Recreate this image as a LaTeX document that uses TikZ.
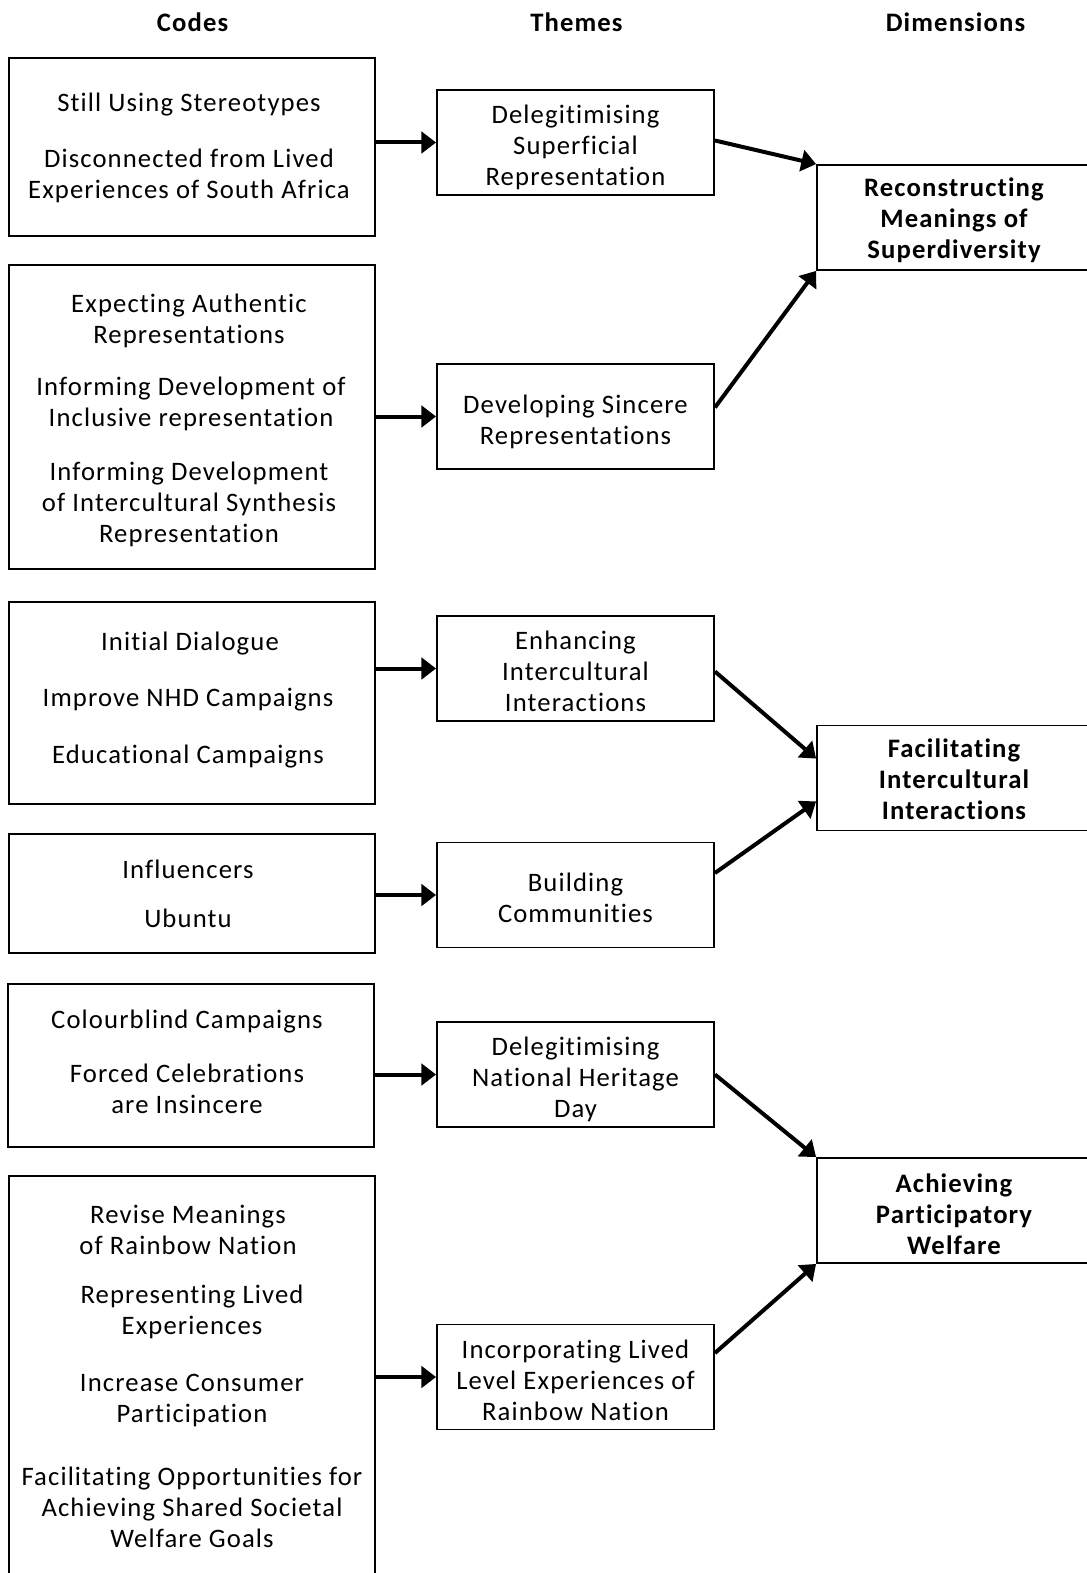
\documentclass[tikz,border=0pt]{standalone}
\usepackage{fontspec}
\setmainfont{Carlito}[LetterSpace=4.2,Ligatures=NoCommon]
\usetikzlibrary{arrows.meta,calc}
% invisible strut that fixes the height of a first line
\newcommand\topstrut[1]{\rule{0pt}{#1}}

\begin{document}
\begin{tikzpicture}[x=0.75pt,y=-0.75pt,
  font=\fontsize{20pt}{23.25pt}\selectfont,
  box/.style={draw=black,line width=1.4pt,inner sep=0pt},
  codebox/.style={box,minimum width=366*0.75pt},
  themebox/.style={box,align=center,minimum width=277*0.75pt,minimum height=105*0.75pt,
    execute at end node={\rule[-6pt]{0pt}{6pt}}},
  dimbox/.style={box,align=center,font=\fontsize{20pt}{23.25pt}\selectfont\bfseries,
    minimum width=274*0.75pt,minimum height=105*0.75pt,
    execute at end node={\rule[-6pt]{0pt}{6pt}}},
  txt/.style={align=center,inner sep=0pt},
  head/.style={inner sep=0pt,font=\fontsize{20pt}{23.25pt}\selectfont\bfseries},
  arr/.style={line width=3pt,-{Triangle[length=11pt,width=16pt]}}]
\useasboundingbox (0,0) rectangle (1087,1573);

% column headings
\node[head] (hc) at (192.6,22) {Codes};
\node[head] (ht) at (576.5,22) {Themes};
\node[head] (hd) at (955.5,22) {Dimensions};

% codes
\node[codebox,minimum height=178*0.75pt] (c1) at (192,147) {};
\node[codebox,minimum height=304*0.75pt] (c2) at (192,417) {};
\node[codebox,minimum height=202*0.75pt] (c3) at (192,703) {};
\node[codebox,minimum height=119*0.75pt] (c4) at (192,893.5) {};
\node[codebox,minimum height=163*0.75pt] (c5) at (191,1065.5) {};
\node[codebox,minimum height=424*0.75pt] (c6) at (192,1388) {};

\node[txt] (c1a) at (189,104.3) {Still Using Stereotypes};
\node[txt] (c1b) at (189,176) {Disconnected from Lived\\Experiences of South Africa};

\node[txt] (c2a) at (189,320.5) {Expecting Authentic\\Representations};
\node[txt] (c2b) at (191,403.7) {Informing Development of\\Inclusive representation};
\node[txt] (c2c) at (189,504) {Informing Development\\of Intercultural Synthesis\\Representation};

\node[txt] (c3a) at (190,644) {Initial Dialogue};
\node[txt] (c3b) at (188,700) {Improve NHD Campaigns};
\node[txt] (c3c) at (188,757) {Educational Campaigns};

\node[txt] (c4a) at (188,869.6) {Influencers};
\node[txt] (c4b) at (188,918.7) {Ubuntu};

\node[txt] (c5a) at (187,1022) {Colourblind Campaigns};
\node[txt] (c5b) at (187,1089.3) {Forced Celebrations\\are Insincere};

\node[txt] (c6a) at (188,1230) {Revise Meanings\\of Rainbow Nation};
\node[txt] (c6b) at (192,1311.4) {Representing Lived\\Experiences};
\node[txt] (c6c) at (192,1400.7) {Increase Consumer\\Participation};
\node[txt] (c6d) at (192,1507.5) {Facilitating Opportunities for\\Achieving Shared Societal\\Welfare Goals};

% themes
\node[themebox] (t1) at (575.5,142.5) {\topstrut{24.4pt}Delegitimising\\Superficial\\Representation};
\node[themebox] (t2) at (575.5,416.5) {\topstrut{24.4pt}Developing Sincere\\Representations};
\node[themebox] (t3) at (575.5,668.5) {\topstrut{24.4pt}Enhancing\\Intercultural\\Interactions};
\node[themebox] (t4) at (575.5,895) {\topstrut{24.4pt}Building\\Communities};
\node[themebox] (t5) at (575.5,1074.5) {\topstrut{24.4pt}Delegitimising\\National Heritage\\Day};
\node[themebox] (t6) at (575.5,1377) {\topstrut{24.4pt}Incorporating Lived\\Level Experiences of\\Rainbow Nation};

% dimensions
\node[dimbox] (d1) at (954,217.5) {\topstrut{21pt}Reconstructing\\Meanings of\\Superdiversity};
\node[dimbox] (d2) at (954,778) {\topstrut{21.4pt}Facilitating\\Intercultural\\Interactions};
\node[dimbox] (d3) at (954,1210.5) {\topstrut{25.5pt}Achieving\\Participatory\\Welfare};

% codes to themes
\foreach \c/\t in {c1/t1,c2/t2,c3/t3,c4/t4,c5/t5,c6/t6}
  \draw[arr] (\c.east |- \t.west) -- (\t.west);

% themes to dimensions
\draw[arr] ($(t1.east)+(0,-2)$) -- (d1.north west);
\draw[arr] ($(t2.east)+(0,-9)$) -- (d1.south west);
\draw[arr] ($(t3.east)+(0,3)$) -- ($(d2.north west)+(0,34)$);
\draw[arr] ($(t4.east)+(0,-22)$) -- ($(d2.south west)+(0,-30)$);
\draw[arr] (t5.east) -- (d3.north west);
\draw[arr] ($(t6.east)+(0,-24)$) -- (d3.south west);
\end{tikzpicture}
\end{document}
